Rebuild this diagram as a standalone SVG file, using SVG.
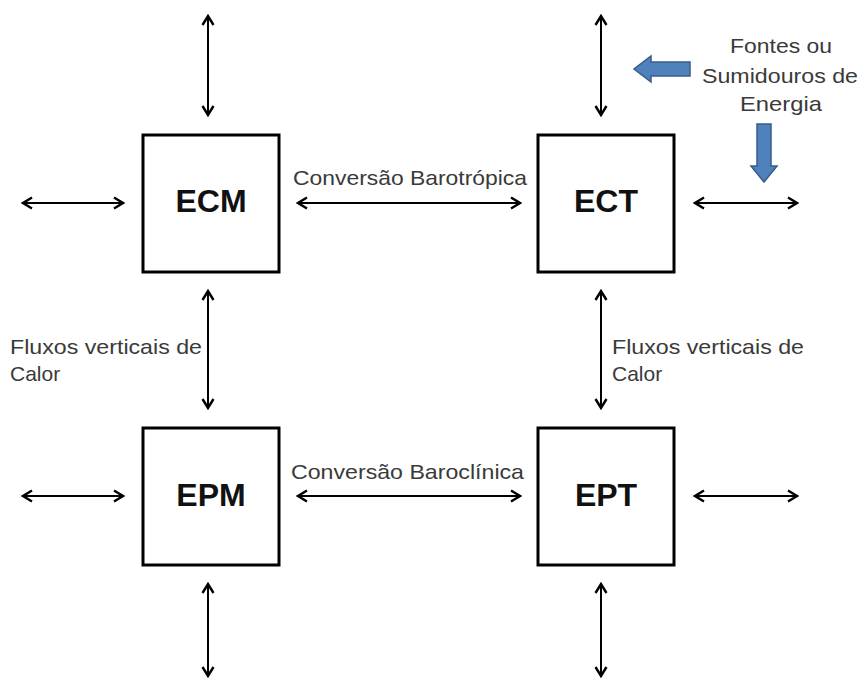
<svg xmlns="http://www.w3.org/2000/svg" width="864" height="680" viewBox="0 0 864 680">
  <defs>
    <marker id="head" viewBox="0 0 14 14" refX="12" refY="7" markerWidth="14" markerHeight="14" markerUnits="userSpaceOnUse" orient="auto-start-reverse">
      <path d="M3,1.5 L12,7 L3,12.5" fill="none" stroke="#000" stroke-width="2.4" stroke-linejoin="miter"/>
    </marker>
    <style>
      .box { fill: #fff; stroke: #000; stroke-width: 3; }
      .name { font-family: "Liberation Sans", Arial, sans-serif; font-weight: bold; font-size: 32px; fill: #111; text-anchor: middle; }
      .lbl { font-family: "Liberation Sans", Arial, sans-serif; font-size: 21px; fill: #3a3a3a; }
      .link { fill: none; stroke: #000; stroke-width: 2; marker-start: url(#head); marker-end: url(#head); }
      .flow { fill: #4f81bd; stroke: #385d8a; stroke-width: 1.5; }
    </style>
  </defs>

  <rect width="864" height="680" fill="#fff"/>

  <!-- connectors -->
  <g id="connectors">
    <!-- ECM -->
    <line class="link" x1="208" y1="16" x2="208" y2="115"/>
    <line class="link" x1="23" y1="203" x2="123" y2="203"/>
    <line class="link" x1="298" y1="203" x2="520" y2="203"/>
    <!-- ECT -->
    <line class="link" x1="601" y1="16" x2="601" y2="115"/>
    <line class="link" x1="695" y1="203" x2="797" y2="203"/>
    <!-- vertical heat fluxes -->
    <line class="link" x1="208" y1="291" x2="208" y2="408"/>
    <line class="link" x1="601" y1="291" x2="601" y2="408"/>
    <!-- EPM -->
    <line class="link" x1="23" y1="496" x2="123" y2="496"/>
    <line class="link" x1="298" y1="496" x2="520" y2="496"/>
    <line class="link" x1="208" y1="584" x2="208" y2="676"/>
    <!-- EPT -->
    <line class="link" x1="695" y1="496" x2="797" y2="496"/>
    <line class="link" x1="601" y1="584" x2="601" y2="676"/>
  </g>

  <!-- nodes -->
  <g id="ECM">
    <rect class="box" x="143" y="135" width="136" height="137"/>
    <text class="name" x="211" y="212">ECM</text>
  </g>
  <g id="ECT">
    <rect class="box" x="538" y="135" width="136" height="137"/>
    <text class="name" x="606" y="212">ECT</text>
  </g>
  <g id="EPM">
    <rect class="box" x="143" y="428" width="136" height="137"/>
    <text class="name" x="211" y="506">EPM</text>
  </g>
  <g id="EPT">
    <rect class="box" x="538" y="428" width="136" height="137"/>
    <text class="name" x="606" y="506">EPT</text>
  </g>

  <!-- labels -->
  <g id="labels">
    <text class="lbl" x="293" y="185" textLength="234" lengthAdjust="spacingAndGlyphs">Conversão Barotrópica</text>
    <text class="lbl" x="291" y="479" textLength="233" lengthAdjust="spacingAndGlyphs">Conversão Baroclínica</text>
    <text class="lbl" x="10" y="354" textLength="192" lengthAdjust="spacingAndGlyphs">Fluxos verticais de</text>
    <text class="lbl" x="10" y="381">Calor</text>
    <text class="lbl" x="612" y="354" textLength="192" lengthAdjust="spacingAndGlyphs">Fluxos verticais de</text>
    <text class="lbl" x="612" y="381">Calor</text>
    <text class="lbl" x="781" y="53" text-anchor="middle" textLength="102" lengthAdjust="spacingAndGlyphs">Fontes ou</text>
    <text class="lbl" x="780" y="83" text-anchor="middle" textLength="156" lengthAdjust="spacingAndGlyphs">Sumidouros de</text>
    <text class="lbl" x="781" y="111" text-anchor="middle" textLength="82" lengthAdjust="spacingAndGlyphs">Energia</text>
  </g>

  <!-- energy source / sink arrows -->
  <g id="sources">
    <path class="flow" d="M690,62 L651,62 L651,56 L634,69 L651,82 L651,76 L690,76 Z"/>
    <path class="flow" d="M757,124 L771,124 L771,166 L777,166 L764,182 L751,166 L757,166 Z"/>
  </g>
</svg>
